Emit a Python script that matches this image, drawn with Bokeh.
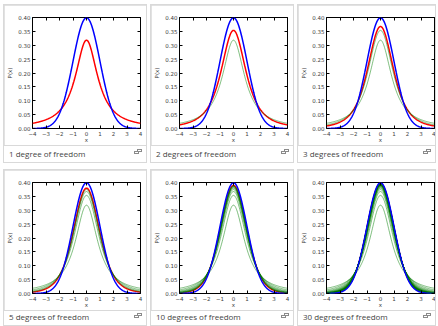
import math
import numpy as np
from bokeh.plotting import figure
from bokeh.layouts import row, column
from bokeh.models import Div, FixedTicker, LinearAxis, Range1d
from bokeh.embed import file_html
from bokeh.resources import INLINE

# ---- data ----
dfs = [1, 2, 3, 5, 10, 30]
captions = ["1 degree of freedom", "2 degrees of freedom", "3 degrees of freedom",
            "5 degrees of freedom", "10 degrees of freedom", "30 degrees of freedom"]
x_ticks = [-4, -3, -2, -1, 0, 1, 2, 3, 4]
x_tick_labels = ["\u22124", "\u22123", "\u22122", "\u22121", "0", "1", "2", "3", "4"]
y_ticks = [0.0, 0.05, 0.1, 0.15, 0.2, 0.25, 0.3, 0.35, 0.4]
y_tick_labels = ["0.00", "0.05", "0.10", "0.15", "0.20", "0.25", "0.30", "0.35", "0.40"]
x_lo, x_hi = -4.0, 4.0
y_lo, y_hi = 0.0, 0.40
n_samples = 241

xs = np.linspace(x_lo, x_hi, n_samples)


def normal_pdf(x):
    return np.exp(-x ** 2 / 2.0) / math.sqrt(2 * math.pi)


def t_pdf(x, nu):
    c = math.exp(math.lgamma((nu + 1) / 2.0) - math.lgamma(nu / 2.0)) / math.sqrt(nu * math.pi)
    return c * (1 + x ** 2 / nu) ** (-(nu + 1) / 2.0)


TICK_FONT = "DejaVu Sans"
TXT = "#3c3c3c"


def style_axis(ax, ticks, labels, show_labels=True):
    ax.ticker = FixedTicker(ticks=ticks)
    ax.axis_line_color = None
    ax.major_tick_in = 3
    ax.major_tick_out = 0
    ax.minor_tick_in = 0
    ax.minor_tick_out = 0
    ax.major_tick_line_color = "black"
    ax.major_tick_line_width = 1
    ax.major_label_text_font = TICK_FONT
    ax.major_label_text_font_size = "5.5px"
    ax.major_label_text_color = TXT
    if show_labels:
        ax.major_label_overrides = {t: l for t, l in zip(ticks, labels)}
        ax.major_label_standoff = 2
        ax.axis_label_text_font = TICK_FONT
        ax.axis_label_text_font_size = "5.5px"
        ax.axis_label_text_font_style = "normal"
        ax.axis_label_text_color = TXT
    else:
        ax.major_label_overrides = {t: "" for t in ticks}
        ax.major_label_standoff = 0


def make_card(i, fig_w, cap_h, line_h, icon_top):
    nu = dfs[i]
    p = figure(width=fig_w, height=140, x_range=Range1d(x_lo, x_hi), y_range=Range1d(y_lo, y_hi),
               output_backend="svg", toolbar_location=None,
               min_border_left=27, min_border_right=fig_w - 27 - 109,
               min_border_top=12, min_border_bottom=16,
               x_axis_label="x", y_axis_label="P(x)", margin=(1, 1, 0, 1))
    p.xgrid.visible = False
    p.ygrid.visible = False
    p.outline_line_color = "black"
    p.outline_line_width = 1
    p.outline_line_alpha = 1
    p.background_fill_color = "white"
    p.border_fill_color = "white"
    style_axis(p.xaxis[0], x_ticks, x_tick_labels)
    style_axis(p.yaxis[0], y_ticks, y_tick_labels)
    p.xaxis[0].axis_label_standoff = -2
    p.yaxis[0].axis_label_standoff = 2
    top = LinearAxis()
    style_axis(top, x_ticks, x_tick_labels, show_labels=False)
    right = LinearAxis()
    style_axis(right, y_ticks, y_tick_labels, show_labels=False)
    p.add_layout(top, "above")
    p.add_layout(right, "right")

    # red: current degrees of freedom
    p.line(xs, t_pdf(xs, nu), line_color="#ff0000", line_width=1.5)
    # green: lower degrees of freedom
    for k in range(1, nu):
        p.line(xs, t_pdf(xs, k), line_color="#008000", line_width=1.0, line_alpha=0.5)
    # blue: normal distribution
    p.line(xs, normal_pdf(xs), line_color="#0000ff", line_width=1.5)

    icon = ('<span style="position:absolute;right:3px;top:%dpx;width:9px;height:7px;">'
            '<span style="position:absolute;left:3px;top:0px;width:5px;height:3px;border:1px solid #8a8a8a;"></span>'
            '<span style="position:absolute;left:0px;top:2px;width:5px;height:3px;border:1px solid #8a8a8a;background:#fff;"></span>'
            '</span>') % icon_top
    html = ('<div style="position:relative;width:%dpx;height:%dpx;line-height:%dpx;'
            'font-family:\'Open Sans\';font-size:8px;color:#444444;padding-left:5px;'
            'box-sizing:border-box;white-space:nowrap;overflow:hidden;">%s%s</div>'
            % (fig_w, cap_h, line_h, captions[i], icon))
    d = Div(text=html, width=fig_w, height=cap_h, margin=(0, 1, 1, 1),
            styles={"background-color": "white", "padding": "0px"})
    card = column(p, d, spacing=1, styles={"background-color": "#d9d9d9"})
    return card


widths = [142, 142, 137]
row1 = row(*[make_card(i, widths[i], 16, 16, 3) for i in range(3)], spacing=3)
row2 = row(*[make_card(i + 3, widths[i], 14, 12, 2) for i in range(3)], spacing=3)
layout = column(row1, row2, spacing=6, margin=(4, 0, 0, 3))

open("out.html", "w").write(file_html(layout, INLINE))
